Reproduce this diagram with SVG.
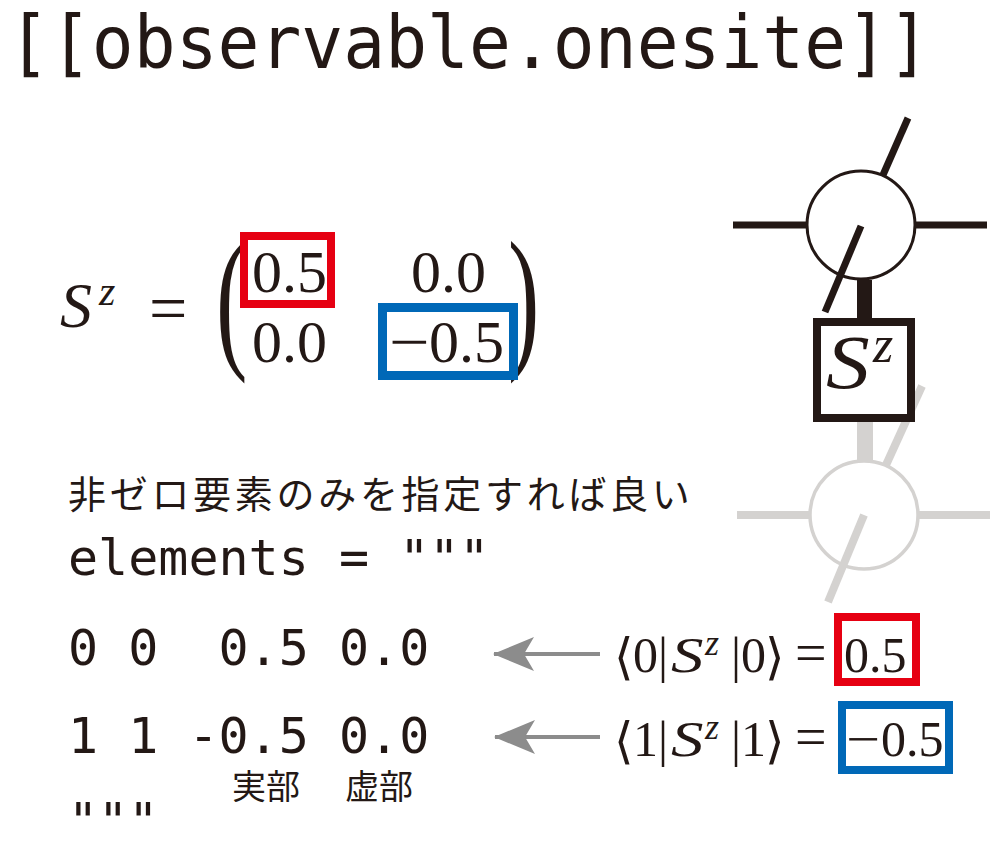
<svg xmlns="http://www.w3.org/2000/svg" width="990" height="861" viewBox="0 0 990 861">
<defs>
<style>
.ink{fill:#231815}
.mono{font-family:"DejaVu Sans Mono","Liberation Mono",monospace;fill:#231815}
.math{font-family:"Liberation Serif","DejaVu Serif",serif;fill:#231815}
.it{font-style:italic}
.ang{font-family:"DejaVu Serif","DejaVu Sans",serif;fill:#231815}
.jp{font-family:"Noto Sans CJK JP","Noto Sans",sans-serif;fill:#231815}
.leg{stroke:#231815;stroke-width:7;fill:none}
.ghost{stroke:#d4d2d0;stroke-width:8;fill:none}
.arrow{stroke:#8c8c8c;stroke-width:4;fill:none}
</style>
<marker id="ah" markerUnits="userSpaceOnUse" viewBox="0 0 42 36" refX="40" refY="18" markerWidth="42" markerHeight="36" orient="auto">
<path d="M41,18 L0,1 L10,18 L0,35 Z" fill="#8c8c8c"/>
</marker>
</defs>
<rect width="990" height="861" fill="#ffffff"/>

<g id="title">
<text class="mono" x="8" y="68" font-size="73" textLength="922" lengthAdjust="spacingAndGlyphs">[[observable.onesite]]</text>
</g>

<g id="matrix">
<text class="math it" x="60" y="327" font-size="64">S</text>
<text class="math it" x="99" y="305" font-size="42">z</text>
<text class="math" x="149" y="331" font-size="68">=</text>
<text class="math" transform="translate(216,350) scale(0.6,1)" font-size="157">(</text>
<text class="math" transform="translate(508,350) scale(0.6,1)" font-size="157">)</text>
<text class="math" x="252" y="292" font-size="60">0.5</text>
<text class="math" x="411" y="292" font-size="60">0.0</text>
<text class="math" x="252" y="362" font-size="60">0.0</text>
<text class="math" transform="translate(389,362) scale(1.2,1)" font-size="60">−</text>
<text class="math" x="429" y="362" font-size="60">0.5</text>
<rect x="244" y="236" width="87" height="68" fill="none" stroke="#e60012" stroke-width="8"/>
<rect x="382.5" y="307.5" width="131" height="68" fill="none" stroke="#0068b7" stroke-width="9"/>
</g>

<g id="tensor-ghost">
<line class="ghost" x1="737" y1="515" x2="810" y2="515"/>
<line class="ghost" x1="918" y1="515" x2="990" y2="515"/>
<line class="ghost" x1="886" y1="465" x2="922" y2="386"/>
<line x1="865" y1="420" x2="865" y2="461" stroke="#d4d2d0" stroke-width="16"/>
<circle cx="864" cy="515" r="54" fill="none" stroke="#d4d2d0" stroke-width="3.5"/>
<line class="ghost" x1="864" y1="515" x2="828" y2="602"/>
</g>

<g id="tensor">
<circle cx="861" cy="225" r="54" fill="#ffffff" stroke="#231815" stroke-width="3"/>
<line class="leg" x1="733" y1="225" x2="807" y2="225"/>
<line class="leg" x1="915" y1="225" x2="987" y2="225"/>
<line class="leg" x1="883" y1="175" x2="908" y2="118"/>
<line class="leg" x1="861" y1="226" x2="825" y2="312"/>
</g>

<g id="connectors">
<line x1="864.5" y1="280" x2="864.5" y2="322" stroke="#231815" stroke-width="15"/>
<line class="arrow" x1="600" y1="654" x2="494" y2="654" marker-end="url(#ah)"/>
<line class="arrow" x1="600" y1="737" x2="495" y2="737" marker-end="url(#ah)"/>
</g>

<g id="operator">
<rect x="817" y="322" width="94" height="96" fill="#ffffff" stroke="#231815" stroke-width="8"/>
<text class="math it" transform="translate(826,388) scale(1.15,1)" font-size="76">S</text>
<text class="math it" x="873" y="362" font-size="52">z</text>
</g>

<g id="note">
<text class="jp" x="68" y="508" font-size="38" letter-spacing="3.7">非ゼロ要素のみを指定すれば良い</text>
</g>

<g id="code">
<text class="mono" x="68" y="575" font-size="50" xml:space="preserve">elements = """</text>
<text class="mono" x="68" y="665" font-size="50" xml:space="preserve">0 0  0.5 0.0</text>
<text class="mono" x="68" y="753" font-size="50" xml:space="preserve">1 1 -0.5 0.0</text>
<text class="jp" x="232" y="799" font-size="34">実部</text>
<text class="jp" x="345" y="799" font-size="34">虚部</text>
<text class="mono" x="68" y="838" font-size="50">"""</text>
</g>

<g id="eq-0">
<text class="ang" x="614" y="674" font-size="50">⟨</text>
<text class="math" x="633" y="672" font-size="50">0</text>
<text class="math" x="658" y="672" font-size="50">|</text>
<text class="math it" transform="translate(671,672) scale(1.3,1)" font-size="50">S</text>
<text class="math it" x="705" y="655" font-size="36">z</text>
<text class="math" x="731" y="672" font-size="50">|</text>
<text class="math" x="741" y="672" font-size="50">0</text>
<text class="ang" x="765" y="674" font-size="50">⟩</text>
<text class="math" x="795" y="672" font-size="56">=</text>
<text class="math" x="844" y="672" font-size="50">0.5</text>
<rect x="838" y="617" width="78" height="65" fill="none" stroke="#e60012" stroke-width="8"/>
</g>

<g id="eq-1">
<text class="ang" x="614" y="758" font-size="50">⟨</text>
<text class="math" x="633" y="756" font-size="50">1</text>
<text class="math" x="658" y="756" font-size="50">|</text>
<text class="math it" transform="translate(671,756) scale(1.3,1)" font-size="50">S</text>
<text class="math it" x="705" y="739" font-size="36">z</text>
<text class="math" x="731" y="756" font-size="50">|</text>
<text class="math" x="741" y="756" font-size="50">1</text>
<text class="ang" x="765" y="758" font-size="50">⟩</text>
<text class="math" x="795" y="756" font-size="56">=</text>
<text class="math" transform="translate(846,756) scale(1.2,1)" font-size="50">−</text>
<text class="math" x="881" y="756" font-size="50">0.5</text>
<rect x="842" y="705" width="107" height="65" fill="none" stroke="#0068b7" stroke-width="8"/>
</g>
</svg>
